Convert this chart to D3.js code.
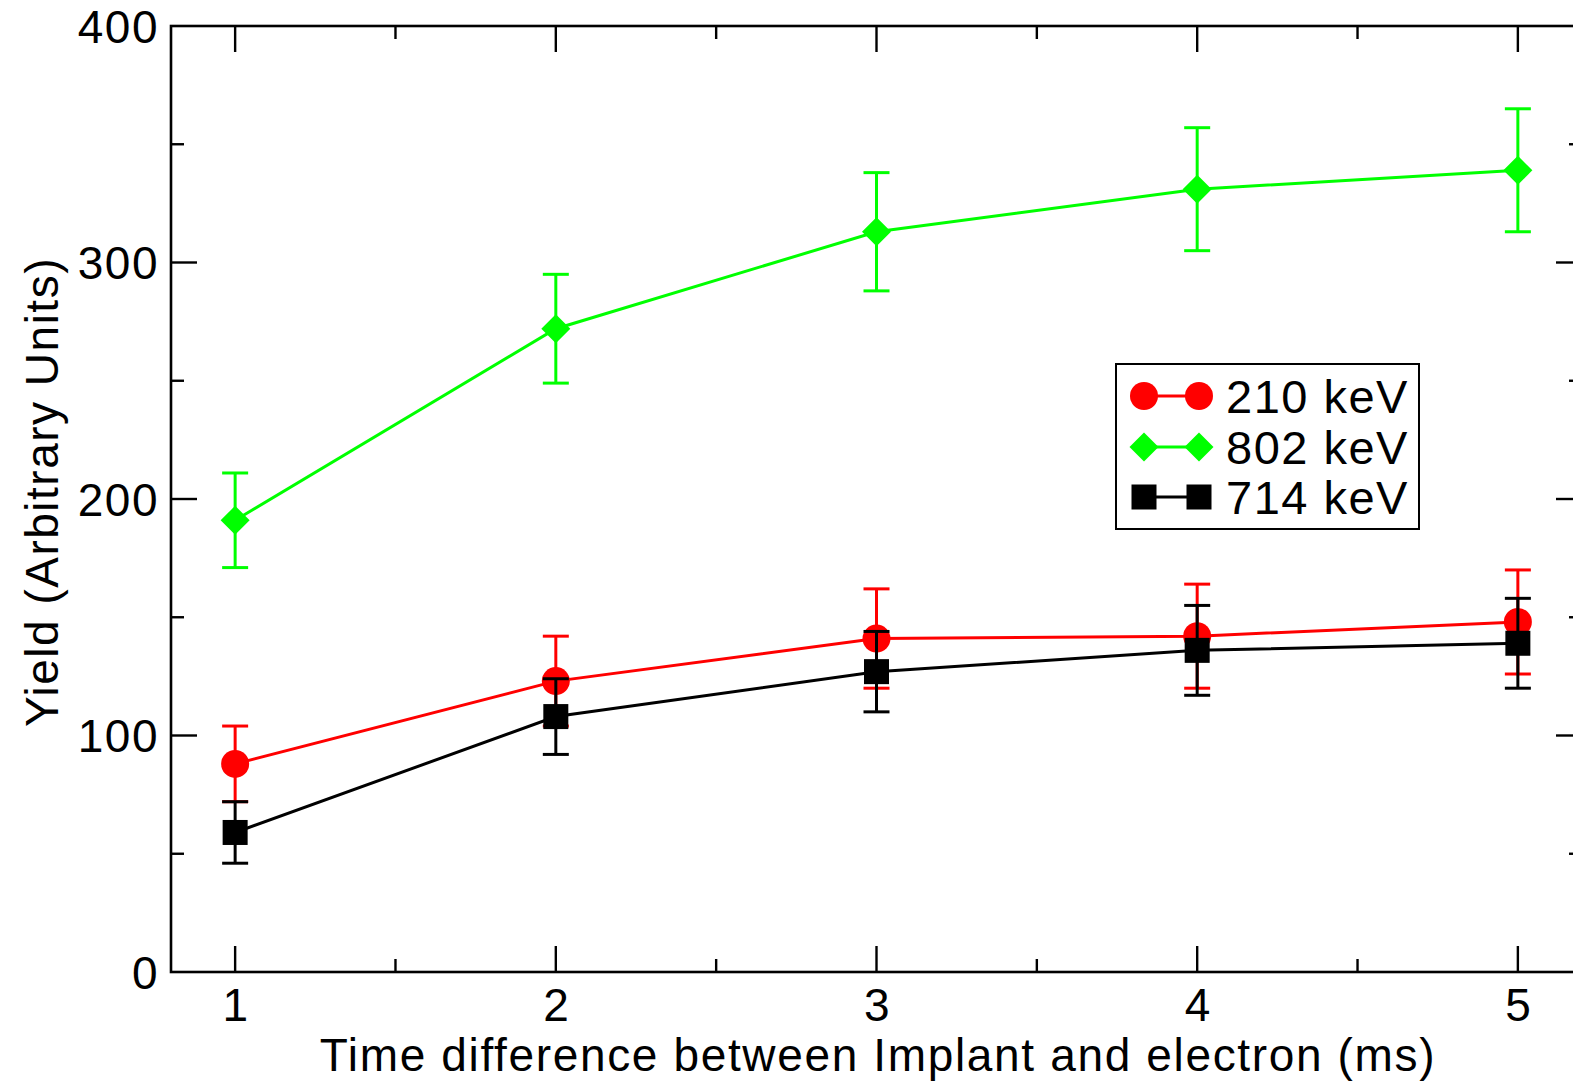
<!DOCTYPE html>
<html>
<head>
<meta charset="utf-8">
<script src="https://cdn.jsdelivr.net/npm/d3@7"></script>
<style>
  html, body { margin: 0; padding: 0; background: #fff; }
  svg { display: block; font-family: "Liberation Sans", Arial, sans-serif; }
  text { letter-spacing: 1.5px; }
</style>
</head>
<body>
<svg id="chart" width="1573" height="1081"></svg>
<script>
// Time difference (ms)
const times = [1, 2, 3, 4, 5];

// Yields and their uncertainties per gamma line
const yield210 = [88, 123, 141, 142, 148];
const err210   = [16, 19, 21, 22, 22];
const yield802 = [191, 272, 313, 331, 339];
const err802   = [20, 23, 25, 26, 26];
const yield714 = [59, 108, 127, 136, 139];
const err714   = [13, 16, 17, 19, 19];

const seriesNames = ["210 keV", "802 keV", "714 keV"];
const seriesColors = ["#ff0000", "#00ff00", "#000000"];
const seriesSymbols = ["circle", "diamond", "square"];

const xMajorTicks = [1, 2, 3, 4, 5];
const xMinorTicks = [1.5, 2.5, 3.5, 4.5];
const yMajorTicks = [0, 100, 200, 300, 400];
const yMinorTicks = [50, 150, 250, 350];

const xTitle = "Time difference between Implant and electron (ms)";
const yTitle = "Yield (Arbitrary Units)";

const series = seriesNames.map((name, i) => ({
  name,
  color: seriesColors[i],
  symbol: seriesSymbols[i],
  values: [yield210, yield802, yield714][i],
  errors: [err210, err802, err714][i]
}));

const svg = d3.select("#chart");
const plot = { left: 171, top: 26, right: 1582, bottom: 972 };

const x = d3.scaleLinear().domain([0.8, 5.2]).range([plot.left, plot.right]);
const y = d3.scaleLinear().domain([0, 400]).range([plot.bottom, plot.top]);

const majorLen = 26, minorLen = 13;
const axisStroke = 2.6;
const fontSize = 46;

// Ticks on all four sides, pointing inward
const tickG = svg.append("g").attr("stroke", "#000").attr("stroke-width", 2.4);
function xTicks(vals, len) {
  vals.forEach(v => {
    tickG.append("line").attr("x1", x(v)).attr("x2", x(v))
      .attr("y1", plot.bottom).attr("y2", plot.bottom - len);
    tickG.append("line").attr("x1", x(v)).attr("x2", x(v))
      .attr("y1", plot.top).attr("y2", plot.top + len);
  });
}
function yTicks(vals, len) {
  vals.forEach(v => {
    tickG.append("line").attr("y1", y(v)).attr("y2", y(v))
      .attr("x1", plot.left).attr("x2", plot.left + len);
    tickG.append("line").attr("y1", y(v)).attr("y2", y(v))
      .attr("x1", plot.right).attr("x2", plot.right - len);
  });
}
xTicks(xMajorTicks, majorLen);
xTicks(xMinorTicks, minorLen);
yTicks(yMajorTicks.filter(v => v > 0 && v < 400), majorLen);
yTicks(yMinorTicks, minorLen);

// Frame
svg.append("rect")
  .attr("x", plot.left).attr("y", plot.top)
  .attr("width", plot.right - plot.left).attr("height", plot.bottom - plot.top)
  .attr("fill", "none").attr("stroke", "#000").attr("stroke-width", axisStroke);

// Tick labels
svg.append("g").selectAll("text").data(xMajorTicks).join("text")
  .attr("x", d => x(d) + 1).attr("y", 1021)
  .attr("text-anchor", "middle").attr("font-size", fontSize)
  .text(d => d);
svg.append("g").selectAll("text").data(yMajorTicks).join("text")
  .attr("x", 159).attr("y", d => y(d) + 16.5)
  .attr("text-anchor", "end").attr("font-size", fontSize)
  .text(d => d);

// Axis titles
svg.append("text")
  .attr("x", 878).attr("y", 1071)
  .attr("text-anchor", "middle").attr("font-size", fontSize)
  .style("letter-spacing", "1.65px")
  .text(xTitle);
svg.append("text")
  .attr("transform", `translate(58, 492) rotate(-90)`)
  .attr("text-anchor", "middle").attr("font-size", fontSize)
  .text(yTitle);

// Marker drawing
function drawSymbol(g, type, cx, cy, color) {
  if (type === "circle") {
    g.append("circle").attr("cx", cx).attr("cy", cy).attr("r", 14).attr("fill", color);
  } else if (type === "diamond") {
    const r = 14.5;
    g.append("path")
      .attr("d", `M${cx},${cy - r}L${cx + r},${cy}L${cx},${cy + r}L${cx - r},${cy}Z`)
      .attr("fill", color);
  } else {
    const s = 25;
    g.append("rect").attr("x", cx - s / 2).attr("y", cy - s / 2)
      .attr("width", s).attr("height", s).attr("fill", color);
  }
}

const capHalf = 13;
const line = d3.line().x(d => x(d[0])).y(d => y(d[1]));

// Series: red, then green, then black on top
series.forEach(s => {
  const g = svg.append("g");
  const pts = times.map((t, i) => [t, s.values[i], s.errors[i]]);
  g.append("path").datum(pts).attr("d", line)
    .attr("fill", "none").attr("stroke", s.color).attr("stroke-width", 3);
  pts.forEach(([t, v, e]) => {
    const cx = x(t), top = y(v + e), bot = y(v - e);
    g.append("line").attr("x1", cx).attr("x2", cx).attr("y1", top).attr("y2", bot)
      .attr("stroke", s.color).attr("stroke-width", 3);
    [top, bot].forEach(yy => g.append("line")
      .attr("x1", cx - capHalf).attr("x2", cx + capHalf).attr("y1", yy).attr("y2", yy)
      .attr("stroke", s.color).attr("stroke-width", 3));
    drawSymbol(g, s.symbol, cx, y(v), s.color);
  });
});

// Legend
const lg = svg.append("g");
lg.append("rect").attr("x", 1116).attr("y", 364).attr("width", 303).attr("height", 165)
  .attr("fill", "#fff").attr("stroke", "#000").attr("stroke-width", 2);
const rowY = [396, 447, 497];
series.forEach((s, i) => {
  const cy = rowY[i];
  lg.append("line").attr("x1", 1144).attr("x2", 1199).attr("y1", cy).attr("y2", cy)
    .attr("stroke", s.color).attr("stroke-width", 3);
  drawSymbol(lg, s.symbol, 1144, cy, s.color);
  drawSymbol(lg, s.symbol, 1199, cy, s.color);
  lg.append("text").attr("x", 1226).attr("y", cy + 17)
    .attr("font-size", 47).text(s.name);
});
</script>
</body>
</html>
